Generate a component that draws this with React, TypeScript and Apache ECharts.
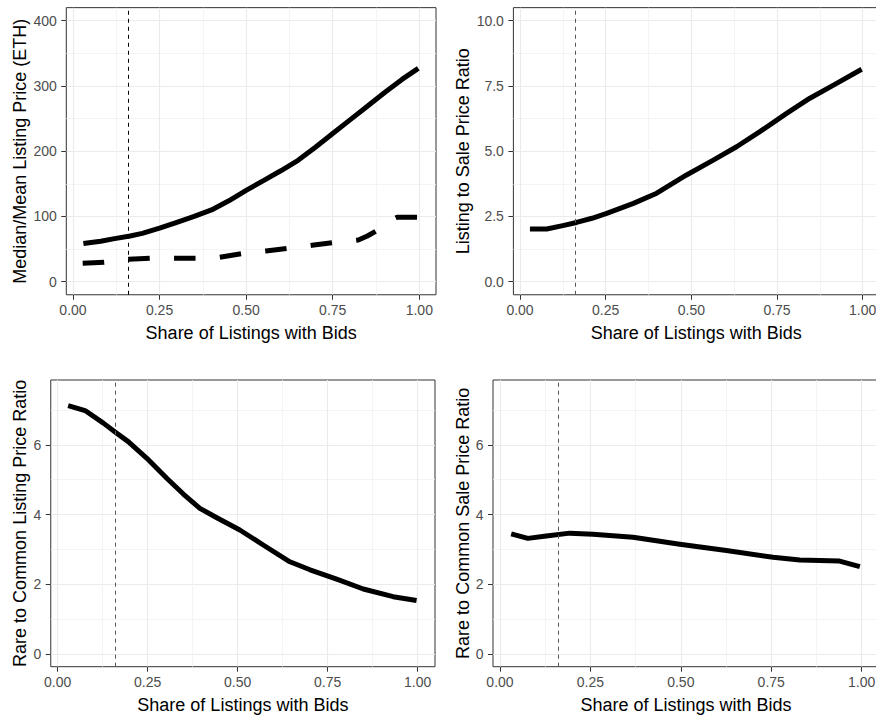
import React, { useEffect, useRef } from "react";
import * as echarts from "echarts";

// ---- data ----
const meanShare = [0.03, 0.08, 0.12, 0.165, 0.2, 0.25, 0.3, 0.35, 0.4, 0.45, 0.5, 0.55, 0.6, 0.65, 0.7, 0.75, 0.8, 0.85, 0.9, 0.95, 0.997];
const meanListingPrice = [58.5, 62, 66, 70, 74, 82, 91, 100, 110, 124, 140, 155, 170, 186, 206, 227, 248, 269, 290, 310, 327];

const medianShare = [0.028, 0.09, 0.125, 0.161, 0.222, 0.293, 0.355, 0.424, 0.488, 0.557, 0.62, 0.69, 0.752, 0.824, 0.85, 0.88, 0.91, 0.936, 0.997];
const medianListingPrice = [28.2, 29.7, 32, 34.3, 35.9, 35.9, 36, 37.4, 43, 47, 51, 55.8, 59.8, 64, 70, 79, 92, 98.7, 98.7];

const saleRatioShare = [0.029, 0.078, 0.125, 0.165, 0.21, 0.253, 0.331, 0.399, 0.486, 0.564, 0.632, 0.7, 0.778, 0.846, 0.924, 0.997];
const listingToSaleRatio = [2.02, 2.02, 2.15, 2.27, 2.43, 2.62, 3.0, 3.39, 4.09, 4.66, 5.17, 5.75, 6.45, 7.03, 7.6, 8.14];

const rareListShare = [0.029, 0.076, 0.127, 0.164, 0.196, 0.247, 0.303, 0.349, 0.395, 0.442, 0.506, 0.571, 0.645, 0.701, 0.775, 0.849, 0.932, 0.997];
const rareToCommonListing = [7.12, 6.98, 6.62, 6.33, 6.09, 5.62, 5.04, 4.59, 4.18, 3.91, 3.56, 3.13, 2.65, 2.42, 2.15, 1.87, 1.65, 1.54];

const rareSaleShare = [0.031, 0.077, 0.128, 0.193, 0.257, 0.368, 0.497, 0.626, 0.755, 0.829, 0.939, 0.995];
const rareToCommonSale = [3.45, 3.32, 3.39, 3.47, 3.44, 3.35, 3.15, 2.97, 2.78, 2.7, 2.67, 2.51];

const bidThreshold = 0.1625;

const xMajor = [0, 0.25, 0.5, 0.75, 1];
const xMinor = [0.125, 0.375, 0.625, 0.875];
const xLimits = [-0.0193, 1.0482];

const p1YMajor = [0, 100, 200, 300, 400];
const p1YMinor = [50, 150, 250, 350];
const p1YLimits = [-20, 420];

const p2YMajor = [0, 2.5, 5, 7.5, 10];
const p2YMinor = [1.25, 3.75, 6.25, 8.75];
const p2YLimits = [-0.5, 10.5];

const p34YMajor = [0, 2, 4, 6];
const p34YMinor = [1, 3, 5, 7];
const p34YLimits = [-0.355, 7.855];

const xTitle = "Share of Listings with Bids";
const yTitles = [
  "Median/Mean Listing Price (ETH)",
  "Listing to Sale Price Ratio",
  "Rare to Common Listing Price Ratio",
  "Rare to Common Sale Price Ratio",
];

// ---- styling helpers ----
const FONT = "Arial, 'Liberation Sans', Helvetica, sans-serif";

const zip = (xs: number[], ys: number[]) => xs.map((x, i) => [x, ys[i]]);

function majorAxis(dim: "x" | "y", gridIndex: number, limits: number[], ticks: number[], name: string, nameGap: number, fmt: (v: number) => string) {
  return {
    type: "value",
    gridIndex,
    position: dim === "x" ? "bottom" : "left",
    min: limits[0],
    max: limits[1],
    name,
    nameLocation: "middle",
    nameGap,
    nameRotate: dim === "y" ? 90 : 0,
    nameTextStyle: { fontFamily: FONT, fontSize: 18, color: "#000" },
    axisLine: { show: false, onZero: false },
    axisTick: { show: true, length: 5, lineStyle: { color: "#333", width: 1 }, customValues: ticks },
    axisLabel: {
      show: true,
      margin: dim === "x" ? 8 : 9.5,
      color: "#4d4d4d",
      fontFamily: FONT,
      fontSize: 14,
      customValues: ticks,
      formatter: (v: number) => fmt(v),
    },
    splitLine: { show: true, lineStyle: { color: "#ebebeb", width: 1.1 } },
    minorTick: { show: false },
    minorSplitLine: { show: false },
  };
}

function minorAxis(dim: "x" | "y", gridIndex: number, limits: number[], ticks: number[]) {
  return {
    type: "value",
    gridIndex,
    position: dim === "x" ? "top" : "right",
    min: limits[0],
    max: limits[1],
    axisLine: { show: false, onZero: false },
    axisTick: { show: false, customValues: ticks },
    axisLabel: { show: false, customValues: ticks },
    splitLine: { show: true, lineStyle: { color: "#f1f1f1", width: 0.8 } },
  };
}

const fmt2 = (v: number) => v.toFixed(2);
const fmt1 = (v: number) => v.toFixed(1);
const fmt0 = (v: number) => v.toFixed(0);

function thresholdLine(color: string) {
  return {
    symbol: ["none", "none"],
    silent: true,
    label: { show: false },
    lineStyle: { type: [4, 4], color, width: 1 },
    data: [{ xAxis: bidThreshold }],
  };
}

const grids = [
  { left: 66.3, top: 7.65, width: 369.7, height: 287.1 },
  { left: 513.4, top: 7.65, width: 365.8, height: 287.1 },
  { left: 50.75, top: 380, width: 384.25, height: 286.7 },
  { left: 493, top: 380, width: 386.1, height: 286.7 },
].map((g) => ({
  ...g,
  show: true,
  borderColor: "#333",
  borderWidth: 1,
  backgroundColor: "transparent",
  containLabel: false,
  outerBoundsMode: "none",
}));

const yLimitsByPanel = [p1YLimits, p2YLimits, p34YLimits, p34YLimits];
const yMajorByPanel = [p1YMajor, p2YMajor, p34YMajor, p34YMajor];
const yMinorByPanel = [p1YMinor, p2YMinor, p34YMinor, p34YMinor];
const yFmtByPanel = [fmt0, fmt1, fmt0, fmt0];
const yNameGaps = [37, 41, 21.5, 21.5];
const xNameGaps = [29, 29, 29.5, 29];

const xAxes: any[] = [];
const yAxes: any[] = [];
for (let i = 0; i < 4; i++) {
  xAxes.push(majorAxis("x", i, xLimits, xMajor, xTitle, xNameGaps[i], fmt2));
  xAxes.push(minorAxis("x", i, xLimits, xMinor));
  yAxes.push(majorAxis("y", i, yLimitsByPanel[i], yMajorByPanel[i], yTitles[i], yNameGaps[i], yFmtByPanel[i]));
  yAxes.push(minorAxis("y", i, yLimitsByPanel[i], yMinorByPanel[i]));
}

const baseLine = (panel: number, data: number[][], extra: any = {}) => ({
  type: "line",
  xAxisIndex: panel * 2,
  yAxisIndex: panel * 2,
  data,
  symbol: "none",
  showSymbol: false,
  smooth: false,
  silent: true,
  lineStyle: { color: "#000", width: 5, join: "round", cap: "butt", ...(extra.lineStyle || {}) },
  z: 3,
  ...(extra.markLine ? { markLine: extra.markLine } : {}),
});

const option: any = {
  animation: false,
  backgroundColor: "#fff",
  grid: grids,
  xAxis: xAxes,
  yAxis: yAxes,
  series: [
    baseLine(0, zip(meanShare, meanListingPrice), { markLine: thresholdLine("#000") }),
    baseLine(0, zip(medianShare, medianListingPrice), { lineStyle: { type: [21.5, 24.3] } }),
    baseLine(1, zip(saleRatioShare, listingToSaleRatio), { markLine: thresholdLine("#555") }),
    baseLine(2, zip(rareListShare, rareToCommonListing), { markLine: thresholdLine("#555") }),
    baseLine(3, zip(rareSaleShare, rareToCommonSale), { markLine: thresholdLine("#555") }),
  ],
};

export default function App() {
  const ref = useRef<HTMLDivElement>(null);
  useEffect(() => {
    if (!ref.current) return;
    const chart = echarts.init(ref.current, null, { renderer: "svg" });
    chart.setOption(option);
    return () => chart.dispose();
  }, []);
  return (
    <div
      ref={ref}
      style={{ position: "absolute", left: 0, top: 0, width: 876, height: 719, background: "#fff", overflow: "hidden" }}
    />
  );
}
